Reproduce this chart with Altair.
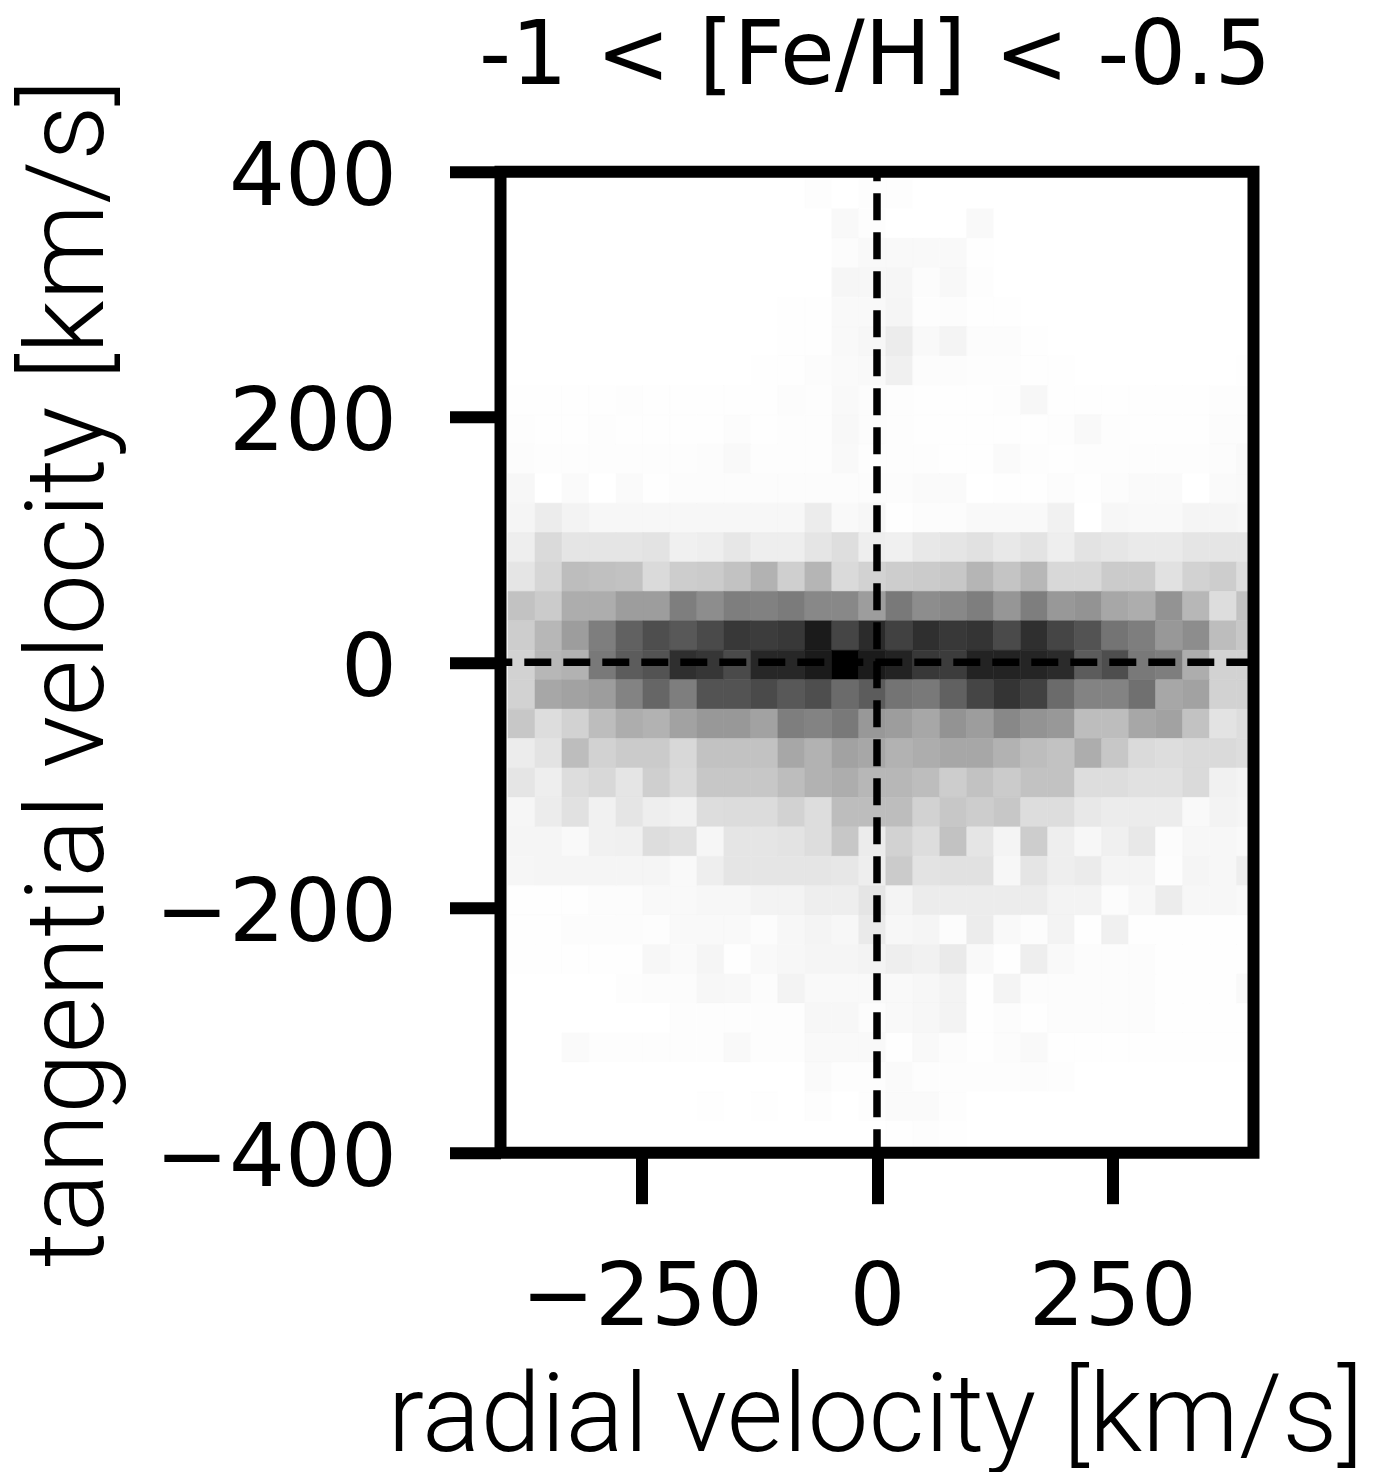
import altair as alt
import pandas as pd

# grey level (255 = white, 0 = black) of each 2D-histogram cell, top row first, left column first
levels = [
 [255,255,255,255,255,255,255,255,255,255,255,253,255,253,253,255,255,255,255,255,255,255,255,255,255,255,255,255],
 [255,255,255,255,255,255,255,255,255,255,255,255,250,253,255,255,255,250,255,255,255,255,255,255,255,255,255,255],
 [255,255,255,255,255,255,255,255,255,255,255,255,252,250,250,250,250,254,255,255,255,255,255,255,255,255,255,255],
 [255,255,255,255,255,255,255,255,255,255,255,255,247,248,247,252,249,253,255,255,255,255,255,255,255,255,255,255],
 [255,255,255,255,255,255,255,255,255,255,254,254,250,250,246,253,252,254,254,255,255,255,255,255,255,255,255,255],
 [255,255,255,255,255,255,255,255,255,255,254,254,250,248,238,250,245,252,252,254,255,255,255,255,255,255,255,255],
 [255,255,255,255,255,255,255,255,255,254,254,252,251,250,242,252,252,253,253,254,254,255,255,255,255,255,255,254],
 [254,254,254,254,253,254,254,254,254,254,252,253,250,252,253,254,254,254,253,248,254,254,254,254,254,254,253,253],
 [253,254,254,253,254,254,254,254,252,254,253,253,249,252,253,254,254,254,254,254,253,250,253,254,254,254,252,252],
 [252,253,253,253,253,253,253,252,250,253,253,253,250,253,253,253,254,254,251,253,254,253,253,253,253,253,252,250],
 [248,255,251,255,251,254,252,252,252,252,252,252,252,252,252,251,251,255,254,254,252,254,252,251,251,255,251,250],
 [246,238,244,248,248,248,248,248,248,248,248,238,250,248,254,252,252,250,250,250,243,255,248,250,250,246,246,248],
 [240,222,232,232,232,230,242,240,234,240,240,232,226,240,242,235,232,228,235,230,240,230,233,236,236,232,232,232],
 [232,218,195,198,200,222,210,208,200,185,212,188,222,215,210,208,205,188,202,190,220,220,208,208,228,215,210,225],
 [200,208,180,180,165,165,135,150,135,138,132,145,145,165,130,150,145,135,158,135,160,155,175,180,155,190,225,200],
 [210,190,165,135,105,85,95,80,60,65,60,25,75,45,70,50,60,55,80,50,75,90,125,135,160,150,195,205],
 [215,190,185,130,100,90,50,58,80,40,40,25,0,25,35,60,65,35,35,38,45,100,85,130,135,180,215,215],
 [215,175,170,165,140,110,135,90,90,80,95,85,115,100,125,130,105,75,55,70,115,140,140,120,175,170,215,215],
 [205,225,215,195,180,185,170,160,160,170,135,140,130,160,165,175,155,165,145,155,160,195,195,175,170,200,230,225],
 [238,230,195,215,208,208,220,200,200,200,175,185,170,175,185,180,175,175,185,195,200,180,205,222,225,222,222,225],
 [232,240,225,220,232,212,222,205,205,205,195,185,180,190,190,195,210,200,208,200,200,225,225,228,228,222,243,245],
 [247,238,228,243,232,240,243,225,224,224,215,225,195,195,195,215,205,210,205,225,225,235,238,238,238,250,244,246],
 [246,246,250,243,242,225,228,247,232,232,230,225,205,238,215,225,200,232,245,210,240,248,242,235,252,248,248,250],
 [247,246,246,246,246,246,250,240,232,232,232,232,234,240,208,230,228,228,248,232,240,237,245,245,253,246,248,240],
 [254,254,254,252,252,250,250,248,248,244,244,240,240,232,245,238,238,238,238,238,244,244,252,248,238,248,248,250],
 [254,254,252,252,252,253,250,250,250,252,248,245,248,236,248,246,252,238,250,252,244,254,242,254,254,254,254,254],
 [254,254,254,254,254,248,251,246,254,250,248,246,246,244,240,243,236,250,254,240,250,252,252,252,254,254,254,254],
 [255,255,255,255,253,252,252,248,249,252,244,250,250,250,250,248,244,254,245,252,252,252,252,252,254,254,254,250],
 [255,255,255,255,255,255,253,253,253,253,253,248,248,252,250,248,244,254,252,254,252,252,252,252,254,254,254,254],
 [255,255,251,253,253,253,253,253,250,253,253,250,250,250,254,250,252,254,252,250,254,254,254,254,254,254,254,254],
 [255,255,255,255,255,255,255,255,255,255,255,251,253,253,251,253,253,253,253,252,253,255,255,255,255,255,255,255],
 [255,255,255,255,255,255,255,254,255,254,255,253,255,253,251,251,253,255,255,255,255,255,255,255,255,255,255,255],
 [255,255,255,255,255,255,255,255,255,255,255,255,255,255,254,253,254,255,255,255,255,255,255,255,255,255,255,255],
]

x_bin_start = -392.0
x_bin_width = 28.67
y_bin_start = 393.7
y_bin_height = 24.0

x_ticks = [-250, 0, 250]
y_ticks = [-400, -200, 0, 200, 400]
title_text = "-1 < [Fe/H] < -0.5"
x_title = "radial velocity [km/s]"
y_title = "tangential velocity [km/s]"

cells = []
for r, row in enumerate(levels):
    for c, lv in enumerate(row):
        cells.append({
            "x0": x_bin_start + c * x_bin_width,
            "x1": x_bin_start + (c + 1) * x_bin_width,
            "y0": y_bin_start - r * y_bin_height,
            "y1": y_bin_start - (r + 1) * y_bin_height,
            "count": 255 - lv,
        })
df = pd.DataFrame(cells)

xs = alt.Scale(domain=[-400, 400], nice=False, zero=False)
ys = alt.Scale(domain=[-400, 400], nice=False, zero=False)
cs = alt.Scale(domain=[0, 255], range=["#ffffff", "#000000"])

tick_font = "DejaVu Sans"
text_font = "Roboto"

x_axis = alt.Axis(
    values=x_ticks, format="d", domain=False, grid=False,
    tickSize=51, tickWidth=12, tickColor="black",
    labelFont=tick_font, labelFontSize=88, labelColor="black", labelPadding=51,
    labelFlush=False, labelOverlap=False, labelLimit=1000,
    title=x_title, titleFont=text_font, titleFontSize=109, titleFontWeight=300,
    titleColor="black", titleX=374.5, titleY=298, titleBaseline="alphabetic", titleAnchor="middle",
    titleLimit=2000,
)
y_axis = alt.Axis(
    values=y_ticks, format="d", domain=False, grid=False,
    tickSize=51, tickWidth=12, tickColor="black",
    labelFont=tick_font, labelFontSize=88, labelColor="black", labelPadding=53,
    labelFlush=False, labelOverlap=False, labelLimit=1000, labelOffset=7,
    title=y_title, titleFont=text_font, titleFontSize=109, titleFontWeight=300,
    titleColor="black", titleX=-398, titleY=501, titleAngle=270,
    titleBaseline="alphabetic", titleAnchor="middle", titleLimit=2000,
)

heat = alt.Chart(df).mark_rect(clip=True, strokeWidth=0.6).encode(
    x=alt.X("x0:Q", scale=xs, axis=x_axis),
    x2="x1:Q",
    y=alt.Y("y0:Q", scale=ys, axis=y_axis),
    y2="y1:Q",
    color=alt.Color("count:Q", scale=cs, legend=None),
    stroke=alt.Stroke("count:Q", scale=cs, legend=None),
)

frame_df = pd.DataFrame({"a": [-400], "b": [400], "zero": [0]})
hline = alt.Chart(frame_df).mark_rule(
    color="black", strokeWidth=7.5, strokeDash=[27, 12], strokeDashOffset=15.2
).encode(x=alt.X("a:Q", scale=xs), x2="b:Q", y=alt.Y("zero:Q", scale=ys))
vline = alt.Chart(frame_df).mark_rule(
    color="black", strokeWidth=7.5, strokeDash=[27, 12], strokeDashOffset=17.4
).encode(y=alt.Y("b:Q", scale=ys), y2="a:Q", x=alt.X("zero:Q", scale=xs))
frame = alt.Chart(frame_df).mark_rect(
    filled=False, stroke="black", strokeWidth=12, fillOpacity=0
).encode(x=alt.X("a:Q", scale=xs), x2="b:Q", y=alt.Y("a:Q", scale=ys), y2="b:Q")

chart = alt.layer(heat, hline, vline, frame).resolve_scale(color="shared").properties(
    width=753, height=981,
    autosize=alt.AutoSizeParams(type="none"),
    padding={"left": 492.5, "top": 163.7, "right": 110, "bottom": 319},
    background="white",
    title=alt.TitleParams(
        text=title_text, font=tick_font, fontSize=89, fontWeight="normal",
        color="black", anchor="middle", dx=-2, dy=94, offset=0, limit=2000,
        baseline="alphabetic",
    ),
).configure_view(stroke=None)

chart.save("out.html", embed_options={"renderer": "svg", "actions": False})
